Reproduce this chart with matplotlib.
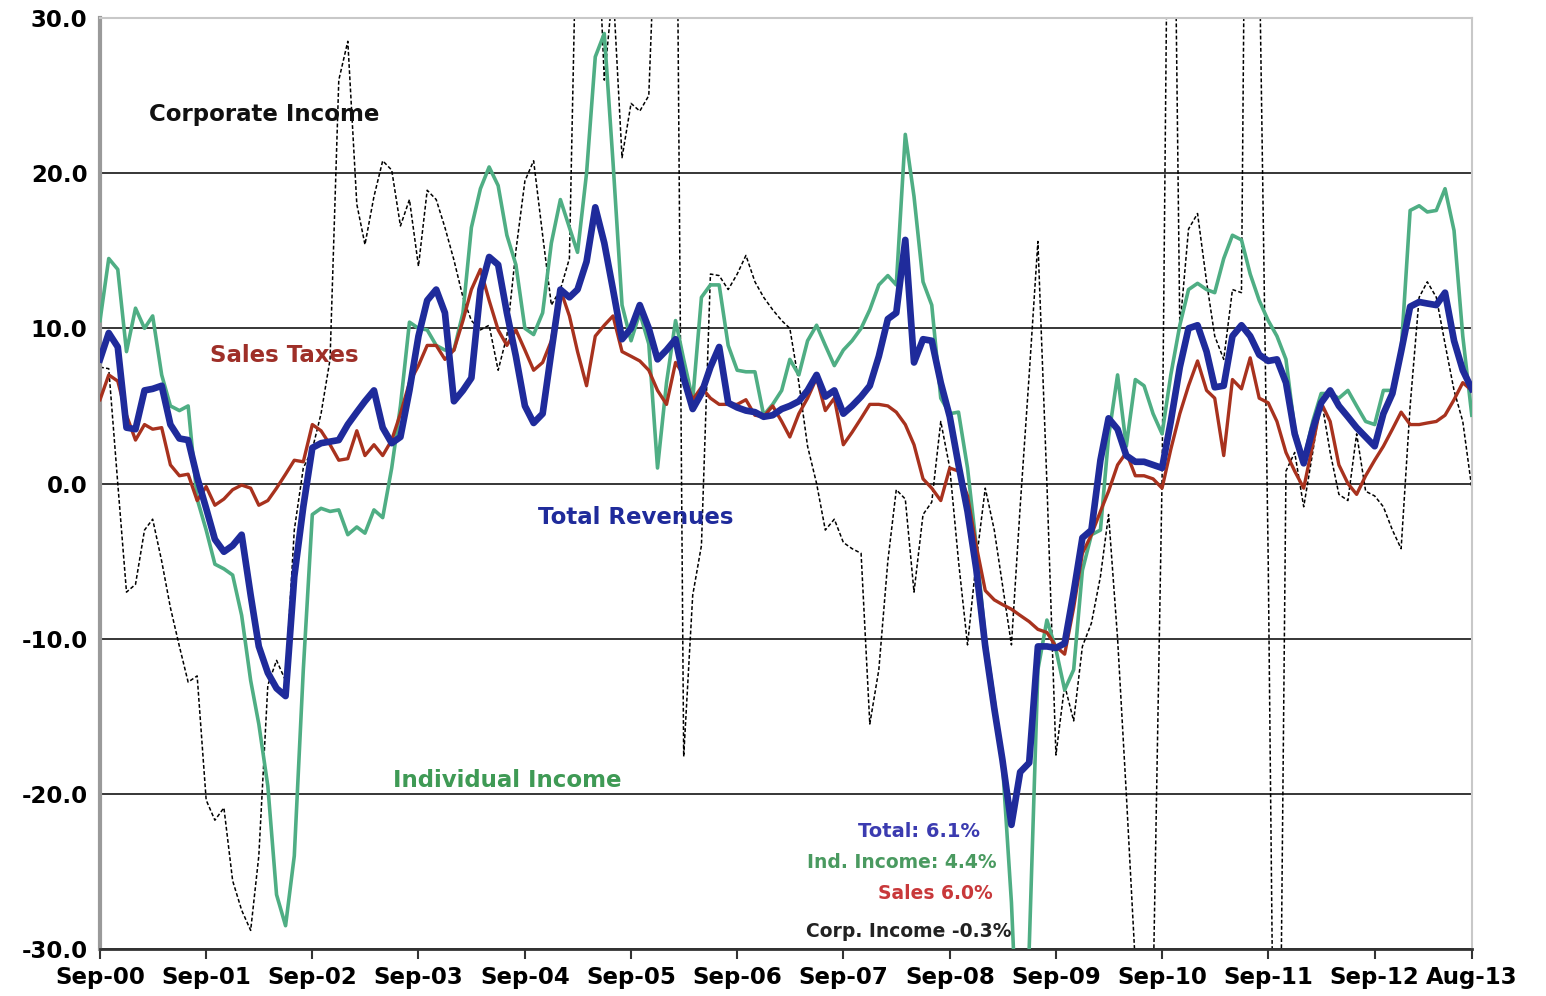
import pandas as pd
import matplotlib.pyplot as plt

# monthly year-over-year growth, Sep-2000 .. Aug-2013 (one row per Sep-Aug year)
months = pd.date_range('2000-09-01', '2013-08-01', freq='MS')

total = [
    8.0, 9.7, 8.8, 3.6, 3.5, 6.0, 6.1, 6.3, 3.8, 2.9, 2.8, 0.4,
    -1.6, -3.6, -4.4, -4.0, -3.3, -7.2, -10.5, -12.2, -13.2, -13.7, -6.0, -1.5,
    2.3, 2.6, 2.7, 2.8, 3.8, 4.6, 5.3, 6.0, 3.6, 2.6, 3.0, 6.0,
    9.5, 11.8, 12.5, 11.0, 5.3, 6.0, 6.8, 12.5, 14.6, 14.1, 11.0, 8.2,
    5.0, 3.9, 4.5, 8.5, 12.5, 12.0, 12.5, 14.3, 17.8, 15.5, 12.5, 9.3,
    10.0, 11.5, 10.0, 8.0, 8.6, 9.3, 6.8, 4.8, 5.8, 7.5, 8.8, 5.2,
    4.9, 4.7, 4.6, 4.3, 4.4, 4.8, 5.0, 5.3, 6.0, 7.0, 5.6, 6.0,
    4.5, 5.0, 5.6, 6.3, 8.2, 10.6, 11.0, 15.7, 7.8, 9.3, 9.2, 6.5,
    4.3, 1.2, -1.8, -5.5, -10.5, -14.5, -17.8, -22.0, -18.6, -18.0, -10.5, -10.5,
    -10.6, -10.3, -7.0, -3.5, -3.0, 1.5, 4.2, 3.5, 1.8, 1.4, 1.4, 1.2,
    1.0, 4.0, 7.5, 10.0, 10.2, 8.5, 6.2, 6.3, 9.5, 10.2, 9.5, 8.3,
    7.9, 8.0, 6.5, 3.2, 1.3, 3.5, 5.2, 6.0, 5.0, 4.3, 3.6, 3.0,
    2.4, 4.5, 5.8, 8.5, 11.4, 11.7, 11.6, 11.5, 12.3, 9.2, 7.3, 6.1,
]

ind_income = [
    10.5, 14.5, 13.8, 8.5, 11.3, 10.0, 10.8, 7.0, 5.0, 4.7, 5.0, -1.0,
    -3.0, -5.2, -5.5, -5.9, -8.5, -12.7, -15.5, -19.5, -26.5, -28.5, -24.0, -12.0,
    -2.0, -1.6, -1.8, -1.7, -3.3, -2.8, -3.2, -1.7, -2.2, 1.0, 5.0, 10.4,
    10.0, 9.9, 8.9, 8.6, 8.6, 11.0, 16.5, 19.0, 20.4, 19.2, 16.0, 14.1,
    10.0, 9.6, 11.0, 15.5, 18.3, 16.5, 14.9, 20.0, 27.5, 29.0, 20.7, 11.5,
    9.2, 11.0, 9.0, 1.0, 6.5, 10.5, 8.0, 5.4, 12.0, 12.8, 12.8, 8.9,
    7.3, 7.2, 7.2, 4.4, 5.1, 6.0, 8.0, 7.0, 9.2, 10.2, 8.9, 7.6,
    8.6, 9.2, 10.0, 11.2, 12.8, 13.4, 12.8, 22.5, 18.5, 13.0, 11.5, 5.5,
    4.5, 4.6, 1.0, -4.0, -10.0, -14.0, -18.0, -27.0, -40.0, -30.0, -12.0, -8.8,
    -10.7, -13.3, -12.0, -5.6, -3.3, -3.0, 3.0, 7.0, 2.4, 6.7, 6.3, 4.5,
    3.2, 7.0, 10.2, 12.5, 12.9, 12.5, 12.3, 14.5, 16.0, 15.7, 13.5, 11.8,
    10.5, 9.5, 8.0, 3.5, 1.5, 4.0, 5.8, 5.8, 5.5, 6.0, 5.0, 4.0,
    3.8, 6.0, 6.0, 8.5, 17.6, 17.9, 17.5, 17.6, 19.0, 16.3, 9.5, 4.4,
]

sales = [
    5.4, 7.0, 6.6, 4.4, 2.8, 3.8, 3.5, 3.6, 1.2, 0.5, 0.6, -1.1,
    -0.2, -1.4, -1.0, -0.4, -0.1, -0.3, -1.4, -1.1, -0.3, 0.6, 1.5, 1.4,
    3.8, 3.4, 2.5, 1.5, 1.6, 3.4, 1.8, 2.5, 1.8, 2.8, 4.5, 6.5,
    7.6, 8.9, 8.9, 8.0, 8.6, 10.5, 12.5, 13.8, 11.8, 9.9, 8.9, 9.9,
    8.6, 7.3, 7.8, 9.2, 12.5, 10.8, 8.5, 6.3, 9.5, 10.2, 10.8, 8.5,
    8.2, 7.9, 7.3, 6.0, 5.1, 7.8, 7.0, 5.4, 6.2, 5.5, 5.1, 5.1,
    5.1, 5.4, 4.4, 4.3, 5.0, 4.0, 3.0, 4.5, 5.5, 6.8, 4.7, 5.5,
    2.5, 3.3, 4.2, 5.1, 5.1, 5.0, 4.6, 3.8, 2.5, 0.3, -0.3, -1.1,
    1.0, 0.8, -0.8, -4.0, -6.9, -7.5, -7.8, -8.1, -8.5, -8.9, -9.4, -9.6,
    -10.5, -11.0, -8.0, -4.5, -3.3, -1.8, -0.5, 1.2, 2.0, 0.5, 0.5, 0.3,
    -0.3, 2.2, 4.5, 6.3, 7.9, 6.0, 5.5, 1.8, 6.7, 6.1, 8.1, 5.5,
    5.2, 4.0, 2.0, 0.8, -0.3, 2.5, 5.2, 4.0, 1.2, 0.0, -0.7, 0.5,
    1.5, 2.4, 3.5, 4.6, 3.8, 3.8, 3.9, 4.0, 4.4, 5.4, 6.5, 6.0,
]

corp_income = [
    7.5, 7.4, 0.0, -7.0, -6.5, -3.0, -2.3, -5.0, -8.0, -10.5, -12.8, -12.4,
    -20.4, -21.7, -20.9, -25.6, -27.5, -28.8, -24.0, -13.0, -11.4, -12.7, -3.0, 1.0,
    2.2, 4.5, 8.0, 26.0, 28.5, 18.0, 15.4, 18.5, 20.8, 20.2, 16.6, 18.3,
    14.0, 18.9, 18.3, 16.5, 14.4, 12.0, 10.5, 9.9, 10.2, 7.3, 9.5, 15.0,
    19.5, 20.8, 16.0, 11.5, 12.5, 14.5, 40.0, 50.0, 40.0, 26.0, 32.0, 21.0,
    24.5, 24.0, 25.0, 40.0, 60.0, 50.0, -17.6, -7.2, -4.0, 13.5, 13.4, 12.5,
    13.5, 14.7, 13.0, 12.0, 11.2, 10.5, 10.0, 6.5, 2.4, 0.0, -3.0, -2.3,
    -3.8, -4.2, -4.5, -15.5, -12.0, -5.0, -0.4, -1.0, -7.0, -2.0, -1.2, 4.0,
    1.0, -5.0, -10.4, -5.0, -0.3, -3.0, -6.5, -10.4, -1.5, 7.0, 15.6, 0.0,
    -17.5, -13.0, -15.3, -10.5, -9.0, -6.0, -2.0, -10.0, -20.0, -31.0, -45.0, -33.0,
    0.3, 60.0, 10.0, 16.4, 17.4, 13.0, 9.5, 8.0, 12.5, 12.3, 80.0, 35.0,
    -5.0, -60.0, 0.8, 2.0, -1.5, 2.0, 5.5, 2.0, -0.7, -1.1, 3.2, -0.5,
    -0.8, -1.5, -3.0, -4.2, 5.0, 12.0, 13.0, 12.0, 9.0, 6.0, 4.0, -0.3,
]

tick_labels = ['Sep-00', 'Sep-01', 'Sep-02', 'Sep-03', 'Sep-04', 'Sep-05', 'Sep-06',
               'Sep-07', 'Sep-08', 'Sep-09', 'Sep-10', 'Sep-11', 'Sep-12', 'Aug-13']

blue = '#1f2b9b'
green = '#4fae84'
red = '#a8321e'

fig = plt.figure(figsize=(15.46, 9.96), dpi=100)
ax = fig.add_axes([0.0647, 0.0472, 0.8873, 0.9347])

ax.plot(months, corp_income, color='black', lw=1.1, linestyle=(0, (2.5, 1.5)), zorder=2)
ax.plot(months, ind_income, color=green, lw=2.6, zorder=3)
ax.plot(months, sales, color=red, lw=2.4, zorder=4)
ax.plot(months, total, color=blue, lw=4.8, zorder=5)

ax.set_ylim(-30, 30)
ax.set_xlim(months[0], months[-1])
ax.set_yticks([-30, -20, -10, 0, 10, 20, 30])
ax.set_yticklabels(['%.1f' % v for v in [-30, -20, -10, 0, 10, 20, 30]])
ax.set_xticks(list(months[::12]) + [months[-1]])
ax.set_xticklabels(tick_labels)
for lab in ax.get_xticklabels() + ax.get_yticklabels():
    lab.set_fontweight('bold')
ax.tick_params(axis='x', labelsize=16.5, length=7, width=1.5, color='#333333', pad=5)
ax.tick_params(axis='y', labelsize=16.5, length=0, pad=9)

ax.yaxis.grid(True, color='black', lw=1.1)
ax.set_axisbelow(True)
ax.spines['left'].set_color('#9a9a9a')
ax.spines['left'].set_linewidth(3)
ax.spines['bottom'].set_color('#333333')
ax.spines['bottom'].set_linewidth(2)
for s in ['top', 'right']:
    ax.spines[s].set_color('#c8c8c8')
    ax.spines[s].set_linewidth(1.5)

tf = ax.transAxes
ax.text(0.1195, 0.896, 'Corporate Income', transform=tf, ha='center', va='center',
        fontsize=16.5, fontweight='bold', color='#111111')
ax.text(0.1341, 0.638, 'Sales Taxes', transform=tf, ha='center', va='center',
        fontsize=16.5, fontweight='bold', color='#9e2f28')
ax.text(0.3907, 0.464, 'Total Revenues', transform=tf, ha='center', va='center',
        fontsize=16.5, fontweight='bold', color=blue)
ax.text(0.2966, 0.1815, 'Individual Income', transform=tf, ha='center', va='center',
        fontsize=16.5, fontweight='bold', color='#3f9a55')

ax.text(0.597, 0.1257, 'Total: 6.1%', transform=tf, ha='center', va='center',
        fontsize=14, fontweight='bold', color='#3b3bb0')
ax.text(0.5845, 0.0934, 'Ind. Income: 4.4%', transform=tf, ha='center', va='center',
        fontsize=13.5, fontweight='bold', color='#4a9a60')
ax.text(0.6093, 0.0601, 'Sales 6.0%', transform=tf, ha='center', va='center',
        fontsize=13.5, fontweight='bold', color='#c8383a')
ax.text(0.5896, 0.0193, 'Corp. Income -0.3%', transform=tf, ha='center', va='center',
        fontsize=13.5, fontweight='bold', color='#222222')

fig.savefig('out.png', dpi=100)
